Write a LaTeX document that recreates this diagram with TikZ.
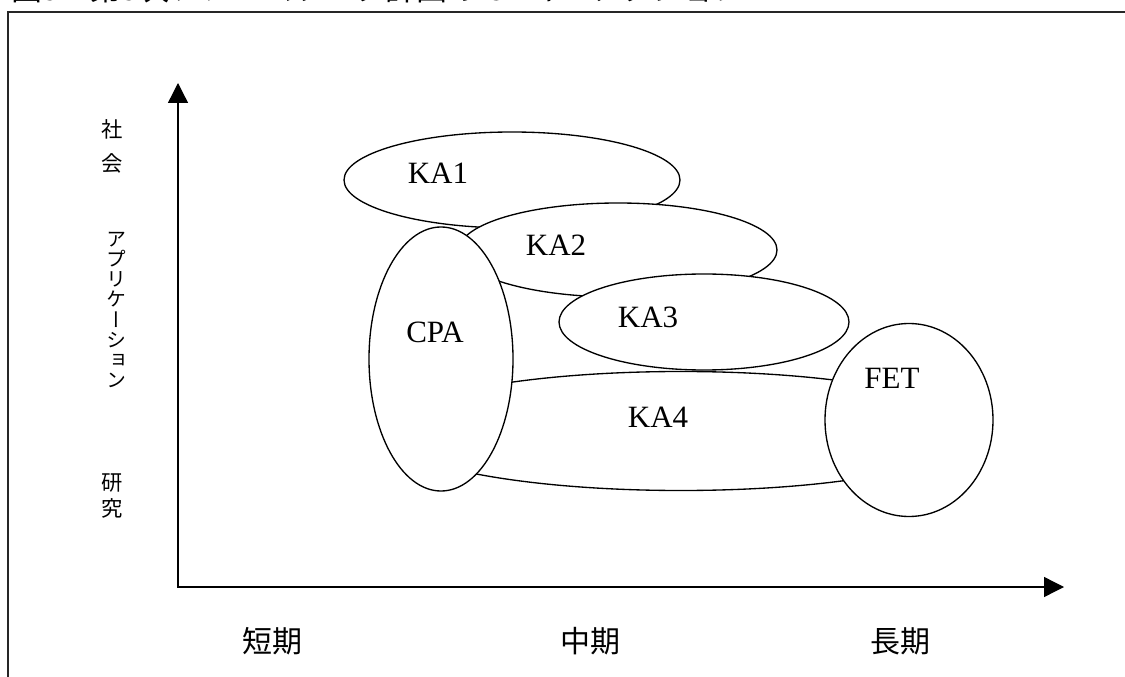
\documentclass[tikz,border=0pt]{standalone}
\usepackage{fontspec}
\setmainfont{Liberation Serif}
\newfontfamily\jp{Noto Sans CJK JP}
\newfontfamily\jpv[RawFeature=+vert]{Noto Sans CJK JP}
\newcommand\myTightLS{\lineskiplimit=-50pt\relax\lineskip=0pt\relax}
\usetikzlibrary{shapes.geometric,arrows.meta}
\begin{document}
\begin{tikzpicture}[x=0.75pt,y=-0.75pt,
  oval/.style={ellipse,draw,fill=white,line width=1pt,inner sep=0pt},
  lab/.style={font=\fontsize{23.25}{26}\selectfont,inner sep=0pt},
  jlab/.style={font=\jp\fontsize{22.5}{26}\selectfont,inner sep=0pt},
  vlab/.style={align=center,inner sep=0pt},
  axisline/.style={line width=1pt,{Triangle[length=15pt,width=15pt]}-{Triangle[length=15pt,width=15pt]}}]
\path[use as bounding box] (0,0) rectangle (1125,677);
\clip (0,0) rectangle (1125,677);
% frame
\draw[line width=0.9pt,black!85] (8,700) -- (8,12) -- (1140,12);
% clipped title
\node[anchor=base west,inner sep=0pt,font=\jp\fontsize{23.25}{26}\selectfont] (title) at (11,1)
  {図5　第5次フレームワーク計画のIST キーアクション};
% axes
\coordinate (origin) at (178,587);
\coordinate (ytip) at (178,83);
\coordinate (xtip) at (1064,587);
\draw[axisline] (ytip) -- (origin) -- (xtip);
% ellipses
\node[oval,minimum width=252pt,minimum height=72pt] (ka1) at (512,180) {};
\node[oval,minimum width=238.5pt,minimum height=70.5pt] (ka2) at (618,250) {};
\node[oval,minimum width=217.5pt,minimum height=72pt] (ka3) at (704,322) {};
\node[oval,minimum width=444pt,minimum height=89.25pt] (ka4) at (681,431) {};
\node[oval,minimum width=108pt,minimum height=198pt] (cpa) at (441,359) {};
\node[oval,minimum width=126pt,minimum height=144.75pt] (fet) at (909,420) {};
% labels
\node[lab] (ka1t) at (438,173) {KA1};
\node[lab] (ka2t) at (556,245) {KA2};
\node[lab] (ka3t) at (648,317) {KA3};
\node[lab] (ka4t) at (658,417) {KA4};
\node[lab] (cpat) at (435,332) {CPA};
\node[lab] (fett) at (892,378) {FET};
% vertical axis labels
\node[vlab,font={\jpv\fontsize{16}{25.5}\selectfont\myTightLS}] (soc) at (112,146) {社\\会};
\node[vlab,font={\jpv\fontsize{15}{15.2}\selectfont\myTightLS}] (app) at (116,310) {ア\\プ\\リ\\ケ\\ー\\シ\\ョ\\ン};
\node[vlab,font={\jpv\fontsize{16}{19.5}\selectfont\myTightLS}] (res) at (112,496) {研\\究};
% horizontal axis labels
\node[jlab] (short) at (272,641) {短期};
\node[jlab] (mid) at (590,641) {中期};
\node[jlab] (long) at (900,641) {長期};
\end{tikzpicture}
\end{document}
